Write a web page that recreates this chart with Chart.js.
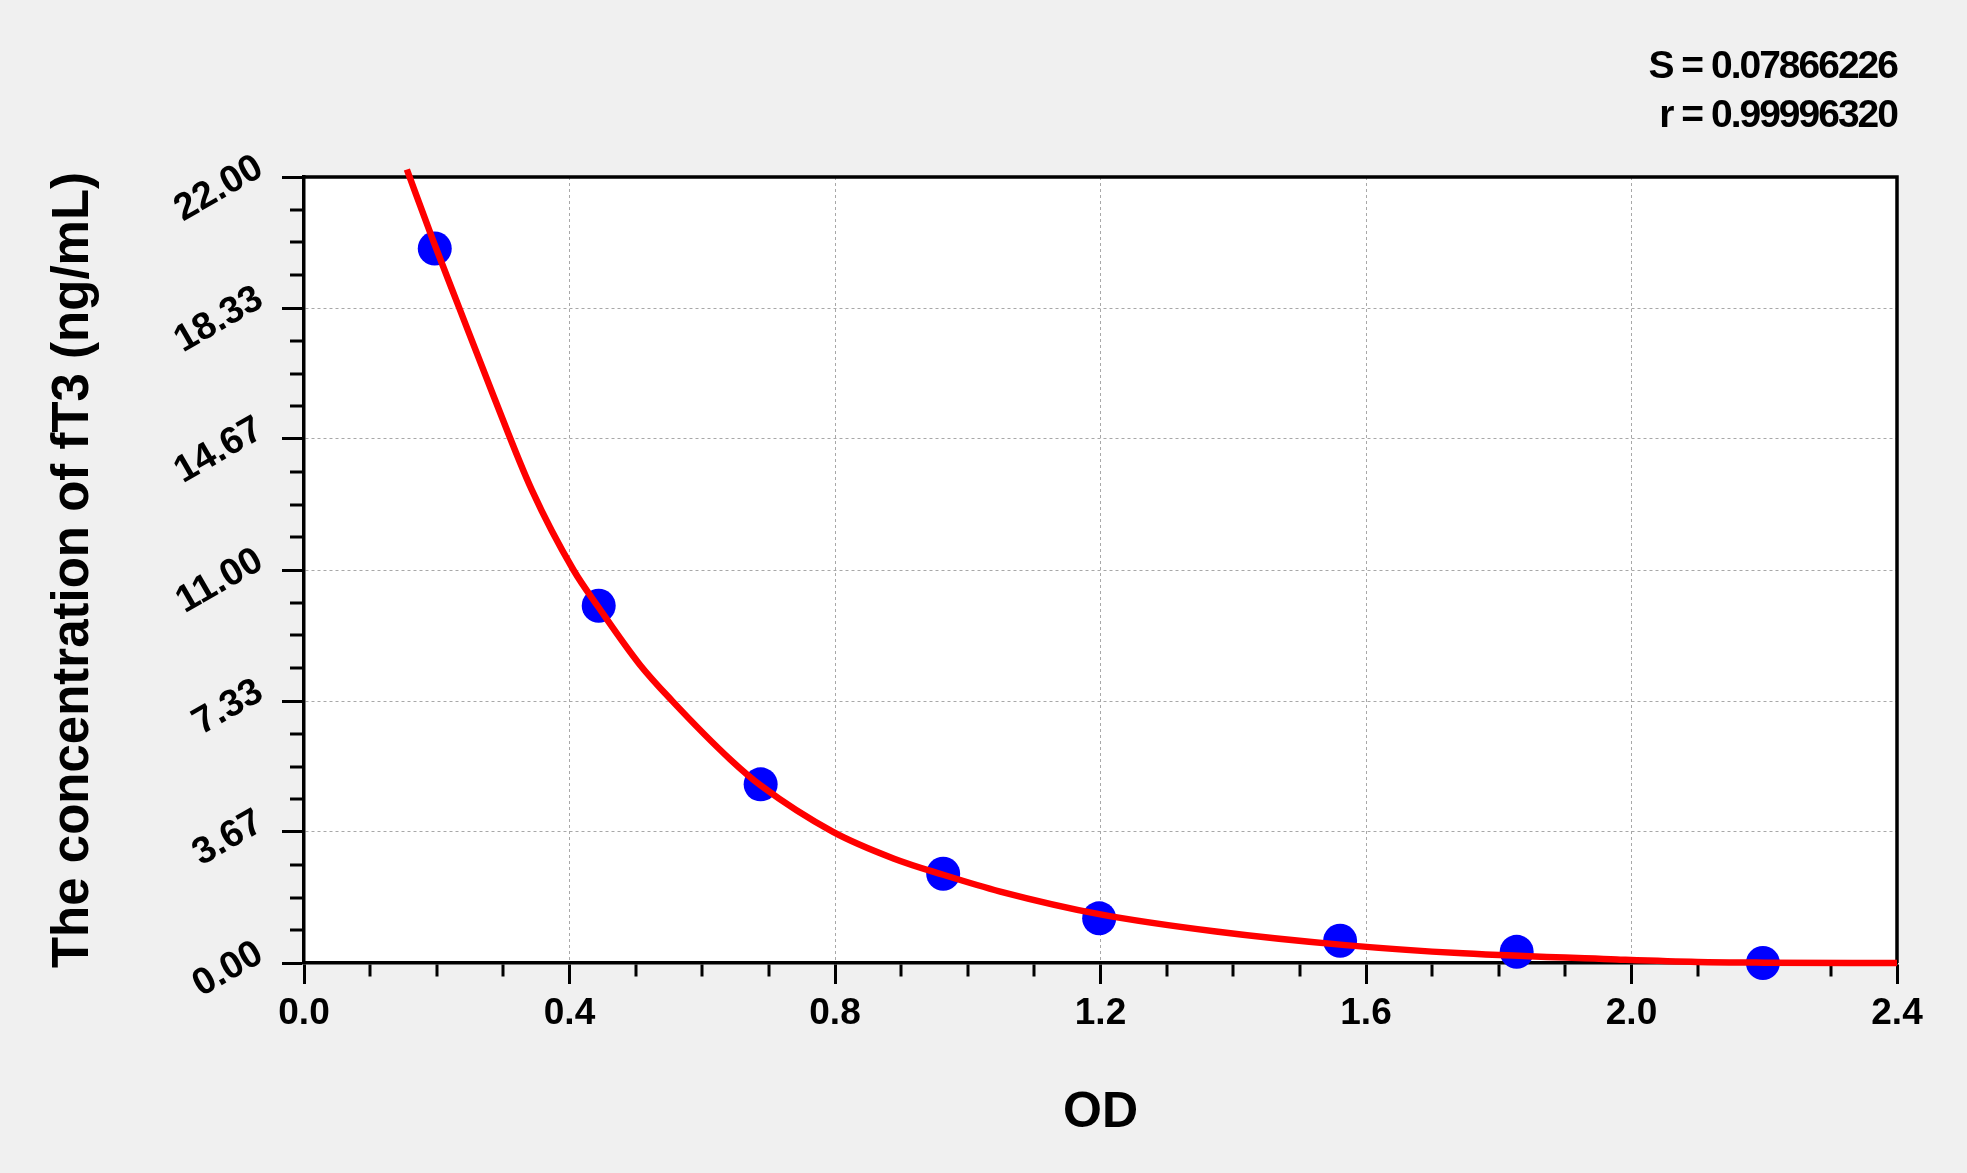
<!DOCTYPE html>
<html>
<head>
<meta charset="utf-8">
<script src="https://cdn.jsdelivr.net/npm/chart.js@4.4.1/dist/chart.umd.min.js"></script>
<style>
  html, body { margin: 0; padding: 0; background: #f0f0f0; }
  #wrap { width: 1967px; height: 1173px; }
</style>
</head>
<body>
<div id="wrap"><canvas id="stdChart" width="1967" height="1173"></canvas></div>
<script>
// standards (OD vs concentration)
const odStd = [0.197, 0.444, 0.688, 0.963, 1.198, 1.561, 1.827, 2.198];
const concStd = [20, 10, 5, 2.5, 1.25, 0.625, 0.312, 0];

// fitted curve
const odCurve = [0.155, 0.195, 0.234, 0.286, 0.343, 0.406, 0.444, 0.506, 0.555, 0.642,
                 0.688, 0.797, 0.889, 0.963, 1.049, 1.200, 1.374, 1.569, 1.746, 1.978,
                 2.099, 2.200, 2.400];
const concCurve = [22.21, 20.20, 18.33, 15.85, 13.25, 11.00, 9.95, 8.35, 7.33, 5.70,
                   4.97, 3.67, 2.92, 2.47, 2.00, 1.36, 0.88, 0.50, 0.27, 0.10,
                   0.03, 0.01, 0.00];

// axis ticks
const xTicks = [0.0, 0.4, 0.8, 1.2, 1.6, 2.0, 2.4];
const xMinor = [0.1, 0.2, 0.3, 0.5, 0.6, 0.7, 0.9, 1.0, 1.1, 1.3, 1.4, 1.5, 1.7, 1.8, 1.9, 2.1, 2.2, 2.3];
const yTicks = [0, 3.67, 7.33, 11.00, 14.67, 18.33, 22.00];
const yMinor = [0.92, 1.83, 2.75, 4.58, 5.50, 6.42, 8.25, 9.17, 10.08, 11.92, 12.83, 13.75,
                15.58, 16.50, 17.42, 19.25, 20.17, 21.08];

const statLines = ['S = 0.07866226', 'r = 0.99996320'];

const FONT = "'Liberation Sans', Arial, sans-serif";

function isMajor(v, list) {
  return list.some(t => Math.abs(t - v) < 1e-6);
}

function toPoints(xs, ys) {
  return xs.map((x, i) => ({ x: x, y: ys[i] }));
}

// plot background + top/right frame + fit statistics
const frame = {
  id: 'frame',
  beforeDraw(chart) {
    const { ctx, chartArea: a } = chart;
    ctx.save();
    ctx.fillStyle = '#f0f0f0';
    ctx.fillRect(0, 0, chart.width, chart.height);
    ctx.fillStyle = '#ffffff';
    ctx.fillRect(a.left, a.top, a.right - a.left, a.bottom - a.top);
    ctx.restore();
  },
  beforeDatasetsDraw(chart) {
    const { ctx, chartArea: a } = chart;
    ctx.save();
    ctx.strokeStyle = '#000';
    ctx.lineWidth = 3.5;
    ctx.beginPath();
    ctx.moveTo(a.left, a.top);
    ctx.lineTo(a.right, a.top);
    ctx.lineTo(a.right, a.bottom);
    ctx.stroke();
    ctx.restore();
  },
  afterDraw(chart) {
    const { ctx, chartArea: a } = chart;
    ctx.save();
    ctx.fillStyle = '#000';
    ctx.font = 'bold 39px ' + FONT;
    ctx.textAlign = 'right';
    ctx.textBaseline = 'alphabetic';
    if ('letterSpacing' in ctx) ctx.letterSpacing = '-2px';
    ctx.fillText(statLines[0], a.right, 78);
    ctx.fillText(statLines[1], a.right, 127);
    ctx.restore();
  }
};

function gridOpts(major, len, minorDash) {
  return {
    color: c => (c.tick && isMajor(c.tick.value, major)) ? '#a8a8a8' : 'rgba(0,0,0,0)',
    lineWidth: c => (c.tick && isMajor(c.tick.value, major)) ? 1 : 0,
    tickColor: '#000',
    tickWidth: 3,
    tickLength: len,
    tickBorderDash: c => (c.tick && isMajor(c.tick.value, major)) ? [] : minorDash
  };
}

new Chart(document.getElementById('stdChart'), {
  type: 'scatter',
  data: {
    datasets: [
      {
        label: 'fit',
        data: toPoints(odCurve, concCurve),
        showLine: true,
        borderColor: '#ff0000',
        borderWidth: 6.5,
        pointRadius: 0,
        cubicInterpolationMode: 'monotone',
        clip: false
      },
      {
        label: 'standards',
        data: toPoints(odStd, concStd),
        backgroundColor: '#0000ff',
        borderWidth: 0,
        pointRadius: 17,
        clip: false
      }
    ]
  },
  options: {
    responsive: false,
    devicePixelRatio: 1,
    animation: false,
    events: [],
    layout: { padding: { left: 0, top: 177, right: 70, bottom: 0 } },
    plugins: { legend: { display: false }, tooltip: { enabled: false } },
    scales: {
      x: {
        type: 'linear',
        min: 0,
        max: 2.4,
        afterBuildTicks: s => { s.ticks = xTicks.concat(xMinor).sort((a, b) => a - b).map(v => ({ value: v })); },
        afterFit: s => { s.height = 210; },
        ticks: {
          autoSkip: false, minRotation: 0, maxRotation: 0, padding: 8, color: '#000',
          font: { family: FONT, size: 37, weight: 'bold' },
          callback: v => isMajor(v, xTicks) ? Number(v).toFixed(1) : ''
        },
        grid: gridOpts(xTicks, 21, [12, 100]),
        border: { color: '#000', width: 3.5, dash: [3, 3] },
        title: {
          display: true, text: 'OD', color: '#000',
          font: { family: FONT, size: 50, weight: 'bold' },
          padding: { top: 0, bottom: 30 }
        }
      },
      y: {
        type: 'linear',
        min: 0,
        max: 22,
        afterBuildTicks: s => { s.ticks = yTicks.concat(yMinor).sort((a, b) => a - b).map(v => ({ value: v })); },
        afterFit: s => { s.width = 304; },
        ticks: {
          autoSkip: false, minRotation: 30, maxRotation: 30, padding: 22, labelOffset: -12, color: '#000',
          font: { family: FONT, size: 38, weight: 'bold' },
          callback: v => isMajor(v, yTicks) ? Number(v).toFixed(2) : ''
        },
        grid: gridOpts(yTicks, 22, [0, 8, 100]),
        border: { color: '#000', width: 3.5, dash: [3, 3] },
        title: {
          display: true, text: 'The concentration of fT3 (ng/mL)', color: '#000',
          font: { family: FONT, size: 51, weight: 'bold' },
          padding: { top: 43, bottom: 0 }
        }
      }
    }
  },
  plugins: [frame]
});
</script>
</body>
</html>
